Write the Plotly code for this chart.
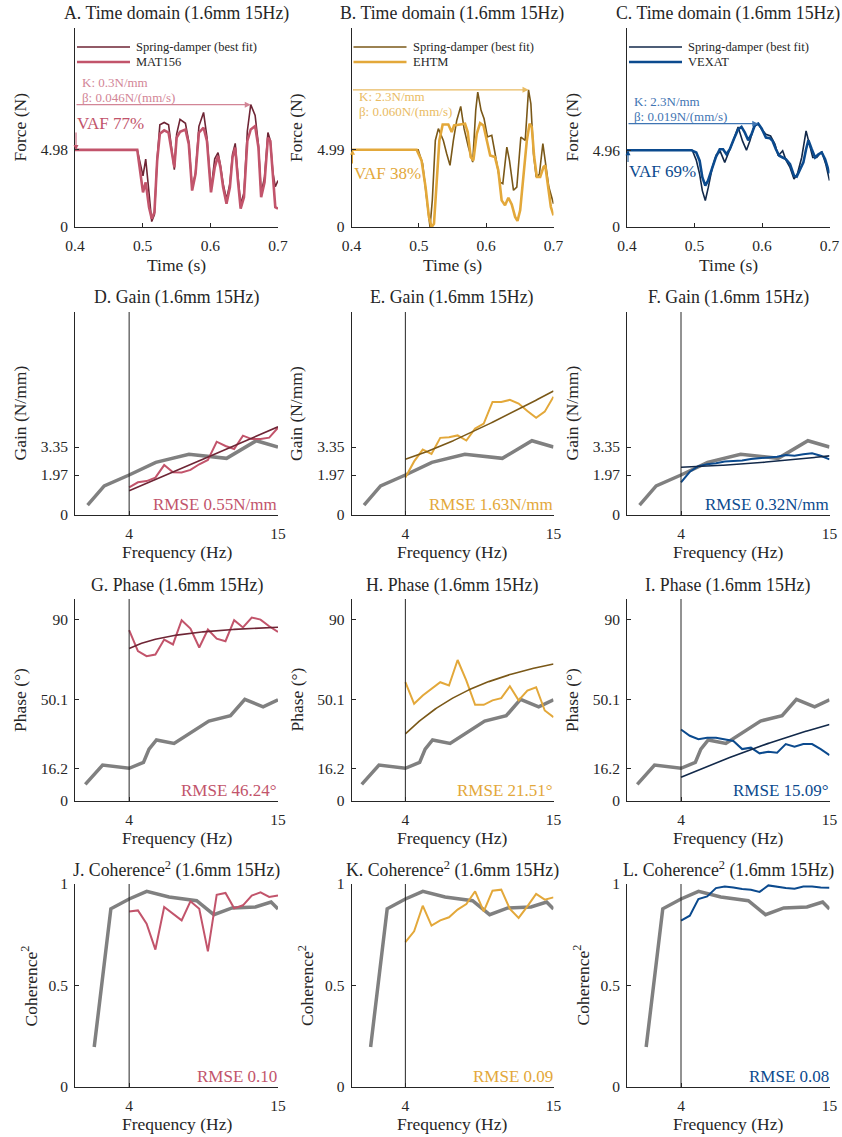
import numpy as np
import plotly.graph_objects as go

W, H = 842, 1137
FONT = "Liberation Serif, Times New Roman, serif"
INK = "#262626"

# ---------------- data ----------------
MODELS = ["MAT156", "EHTM", "VEXAT"]
PANEL_LETTERS = ["ABC", "DEF", "GHI", "JKL"]
K_NMM = [0.3, 2.3, 2.3]
BETA = [0.046, 0.060, 0.019]
VAF = [77, 38, 69]
RMSE_GAIN = [0.55, 1.63, 0.32]
RMSE_PHASE = [46.24, 21.51, 15.09]
RMSE_COH = [0.10, 0.09, 0.08]

# time domain: model force and its best-fit spring-damper force
T_MAT156 = [0.400, 0.492, 0.5005, 0.5045, 0.5094, 0.5134, 0.5174, 0.5214, 0.5254, 0.5318, 0.5383,
            0.5433, 0.5468, 0.5502, 0.5552, 0.5632, 0.5682, 0.5731, 0.5781, 0.5831, 0.5900, 0.5950,
            0.6010, 0.6065, 0.6114, 0.6149, 0.6189, 0.6239, 0.6289, 0.6328, 0.6368, 0.6408, 0.6448,
            0.6497, 0.6547, 0.6597, 0.6662, 0.6711, 0.6751, 0.6801, 0.6851, 0.6886, 0.6925, 0.6960, 0.7000]
F_MAT156 = [4.98, 4.98, 2.24, 2.88, 1.28, 0.53, 0.96, 4.27, 6.03, 6.24, 6.09, 4.70, 3.85, 5.77, 6.15,
            6.30, 5.34, 2.35, 3.42, 6.09, 6.41, 5.56, 2.24, 3.85, 4.59, 3.85, 2.56, 1.50, 2.56, 4.49,
            5.13, 2.99, 1.18, 1.92, 5.56, 6.30, 6.52, 5.13, 1.92, 2.88, 5.77, 5.56, 2.99, 1.28, 1.18]
F_MAT156_FIT = [4.98, 4.98, 3.30, 4.38, 2.20, 0.35, 0.80, 4.40, 6.60, 6.75, 6.60, 5.00, 3.70, 6.00, 6.95,
                6.70, 5.50, 2.50, 3.50, 6.50, 7.40, 5.80, 2.40, 4.40, 4.80, 4.00, 2.80, 1.80, 2.80, 4.70,
                5.40, 3.30, 1.50, 2.20, 6.20, 7.90, 7.20, 5.30, 2.20, 3.20, 6.10, 5.60, 3.50, 2.60, 3.00]

T_EHTM = [0.400, 0.4967, 0.504, 0.510, 0.515, 0.519, 0.5225, 0.5265, 0.5305, 0.5354, 0.5438, 0.5488,
          0.5523, 0.5612, 0.5686, 0.5726, 0.577, 0.581, 0.586, 0.591, 0.596, 0.601, 0.606, 0.613, 0.618,
          0.623, 0.628, 0.633, 0.638, 0.643, 0.6465, 0.6505, 0.6555, 0.6604, 0.6644, 0.6678, 0.6713,
          0.6753, 0.6802, 0.6852, 0.6877, 0.6916, 0.6961, 0.700]
F_EHTM = [4.99, 4.99, 4.30, 2.58, 0.65, 0.00, 0.20, 2.58, 5.59, 6.62, 6.62, 6.13, 6.56, 6.62, 6.67, 6.13,
          4.52, 4.30, 6.02, 6.71, 6.56, 5.59, 4.62, 4.52, 3.66, 1.72, 1.40, 1.89, 1.46, 0.65, 0.39, 1.08,
          3.44, 5.59, 6.67, 6.45, 4.52, 3.23, 3.23, 3.87, 3.98, 2.58, 1.29, 0.75]
T_EHTM_FIT = [0.400, 0.499, 0.5056, 0.5116, 0.5166, 0.520, 0.5245, 0.529, 0.5364, 0.5414, 0.5463, 0.5513,
              0.5563, 0.5622, 0.5672, 0.5736, 0.580, 0.5845, 0.5875, 0.5924, 0.5969, 0.6019, 0.6083,
              0.6133, 0.6207, 0.6247, 0.6307, 0.6346, 0.6406, 0.6455, 0.6515, 0.658, 0.6629, 0.6664,
              0.6703, 0.6743, 0.6790, 0.6842, 0.6877, 0.6930, 0.700]
F_EHTM_FIT = [4.99, 4.99, 4.09, 1.72, 0.00, 1.72, 5.59, 6.35, 5.59, 4.73, 3.98, 5.59, 6.88, 7.79, 6.35,
              5.16, 4.19, 7.53, 8.71, 7.53, 6.99, 5.81, 5.92, 4.73, 2.90, 2.80, 5.16, 4.30, 2.37, 2.58,
              5.81, 5.59, 8.86, 7.96, 4.73, 3.23, 3.40, 5.38, 4.30, 2.60, 1.50]

T_VEXAT = [0.400, 0.4952, 0.5026, 0.5076, 0.5116, 0.516, 0.520, 0.525, 0.5314, 0.5374, 0.5423, 0.5473,
           0.5523, 0.5582, 0.5646, 0.5696, 0.5746, 0.5796, 0.5845, 0.5895, 0.5944, 0.5994, 0.6058,
           0.6117, 0.6157, 0.6206, 0.6256, 0.6306, 0.6355, 0.6415, 0.6474, 0.6514, 0.6563, 0.6613,
           0.6653, 0.6687, 0.6737, 0.6786, 0.6836, 0.6885, 0.6935, 0.700]
F_VEXAT = [4.96, 4.96, 4.81, 4.28, 3.21, 2.67, 2.99, 3.63, 4.49, 5.02, 5.02, 4.70, 5.02, 5.67, 6.31, 6.46,
           6.09, 5.60, 5.99, 6.58, 6.67, 6.37, 5.77, 5.73, 5.56, 5.02, 4.60, 4.49, 4.38, 4.06, 3.31, 3.25,
           3.74, 4.17, 5.02, 5.60, 5.02, 4.49, 4.70, 4.81, 4.38, 3.46]
T_VEXAT_FIT = [0.400, 0.4967, 0.5026, 0.5076, 0.5116, 0.516, 0.5205, 0.5264, 0.5324, 0.5383, 0.5448,
               0.5497, 0.5572, 0.5646, 0.5711, 0.577, 0.582, 0.588, 0.5944, 0.5994, 0.6058, 0.6127,
               0.6191, 0.6241, 0.6306, 0.6355, 0.6415, 0.6474, 0.6524, 0.6588, 0.6653, 0.6702, 0.6752,
               0.6811, 0.6885, 0.6945, 0.700]
F_VEXAT_FIT = [4.96, 4.96, 4.32, 3.42, 2.35, 1.71, 2.57, 3.85, 4.66, 4.87, 4.17, 4.70, 5.56, 6.46, 5.56,
               4.96, 5.56, 6.46, 6.67, 6.31, 5.99, 5.88, 5.35, 4.60, 4.92, 4.32, 3.85, 3.10, 3.42, 4.49,
               6.20, 5.35, 4.49, 4.49, 4.87, 4.06, 2.99]

# frequency domain: model response at the analysed frequencies
FREQ = [4.00, 4.65, 5.29, 5.94, 6.59, 7.24, 7.88, 8.53, 9.18, 9.82, 10.47, 11.12, 11.76, 12.41, 13.06,
        13.71, 14.35, 15.00]
GAIN_MAT156 = [1.36, 1.61, 1.67, 1.84, 2.46, 2.10, 2.09, 2.22, 2.50, 2.71, 3.61, 3.40, 3.25, 3.91, 3.74,
               3.74, 3.81, 4.30]
GAIN_EHTM = [1.85, 2.64, 3.22, 3.01, 3.80, 3.83, 3.92, 3.67, 4.26, 4.50, 5.57, 5.57, 5.67, 5.49, 5.12,
             4.79, 5.09, 5.83]
GAIN_VEXAT = [1.61, 2.13, 2.41, 2.50, 2.55, 2.63, 2.66, 2.69, 2.76, 2.79, 2.82, 2.87, 2.96, 2.92, 2.99,
              3.04, 2.92, 2.74]
PHASE_MAT156 = [84.6, 74.2, 71.7, 72.5, 79.9, 77.5, 89.5, 85.4, 76.0, 84.9, 80.4, 79.1, 89.5, 85.9, 90.8,
                89.8, 86.5, 83.7]
PHASE_EHTM = [58.8, 48.1, 52.2, 55.5, 58.8, 57.2, 69.8, 59.6, 47.6, 47.6, 49.8, 50.9, 56.8, 49.8, 54.7,
              56.3, 44.8, 41.5]
PHASE_VEXAT = [35.4, 32.3, 30.6, 31.3, 31.3, 30.6, 29.7, 25.7, 26.4, 23.6, 24.4, 23.9, 28.2, 26.9, 28.2,
               28.2, 25.7, 22.7]
COH_MAT156 = [0.865, 0.870, 0.805, 0.677, 0.887, 0.852, 0.821, 0.915, 0.878, 0.668, 0.947, 0.956, 0.880,
              0.895, 0.943, 0.959, 0.936, 0.943]
COH_EHTM = [0.714, 0.767, 0.893, 0.795, 0.821, 0.836, 0.874, 0.901, 0.964, 0.865, 0.967, 0.972, 0.877,
            0.833, 0.890, 0.951, 0.923, 0.934]
COH_VEXAT = [0.819, 0.844, 0.926, 0.939, 0.980, 0.988, 0.983, 0.975, 0.972, 0.961, 0.993, 0.985, 0.980,
             0.977, 0.988, 0.988, 0.983, 0.982]

# experimental reference (grey)
FREQ_GAIN_REF = [0.93, 2.16, 4.0, 5.97, 8.42, 11.2, 13.4, 15.0]
GAIN_REF = [0.49, 1.43, 1.97, 2.59, 2.99, 2.79, 3.66, 3.35]
FREQ_PHASE_REF = [0.76, 2.04, 4.0, 5.06, 5.47, 6.02, 7.32, 9.89, 11.49, 12.55, 13.9, 15.0]
PHASE_REF = [8.2, 17.8, 16.2, 19.1, 25.7, 30.2, 28.5, 39.6, 42.2, 50.3, 46.6, 50.1]
FREQ_COH_REF = [1.42, 2.65, 4.0, 5.3, 6.95, 8.99, 10.26, 11.61, 13.33, 14.49, 15.0]
COH_REF = [0.197, 0.878, 0.926, 0.964, 0.936, 0.918, 0.849, 0.882, 0.887, 0.911, 0.877]

F_LOW, F_HIGH = 4, 15

COLOR = ["#C2546B", "#E3A83A", "#0B4A8E"]
COLOR_FIT = ["#6E2535", "#7A5818", "#12294A"]
COLOR_NOTE = ["#D28596", "#E9BB62", "#3F75B3"]
GREY = "#808080"

TIME = [(T_MAT156, F_MAT156, T_MAT156, F_MAT156_FIT),
        (T_EHTM, F_EHTM, T_EHTM_FIT, F_EHTM_FIT),
        (T_VEXAT, F_VEXAT, T_VEXAT_FIT, F_VEXAT_FIT)]
GAIN = [GAIN_MAT156, GAIN_EHTM, GAIN_VEXAT]
PHASE = [PHASE_MAT156, PHASE_EHTM, PHASE_VEXAT]
COH = [COH_MAT156, COH_EHTM, COH_VEXAT]
VAF_ARROW_FROM = [6.2, 4.0, 4.1]

# ---------------- layout geometry (px) ----------------
COL_X = [(75, 278), (351.5, 553.5), (627, 829.5)]
ROWS = [(28, 227), (312, 515), (599, 801), (884, 1087)]
YRANGE = [(0, 12.85), (0, 10), (0, 100), (0, 1)]
TITLE_GAP = [15, 14, 14, 15]
# K/beta note: offsets of the two lines from the peak arrow (above, or below it)
NOTE_DY = [(-22, -7), (7, 22), (-22, -7)]

TITLE_SIZE, LABEL_SIZE, TICK_SIZE = 17.8, 17.5, 15.5


def px(x):
    return x / W


def py(y):
    return 1 - y / H


fig = go.Figure()
layout = dict(width=W, height=H, margin=dict(l=0, r=0, t=0, b=0, pad=0, autoexpand=False),
              paper_bgcolor="white", plot_bgcolor="white", showlegend=False,
              font=dict(family=FONT, color=INK))
annotations, shapes = [], []


def text(x, y, s, size, color=INK, xanchor="center", yanchor="middle", angle=0):
    annotations.append(dict(x=px(x), y=py(y), xref="paper", yref="paper", text=s, showarrow=False,
                            font=dict(family=FONT, size=size, color=color),
                            xanchor=xanchor, yanchor=yanchor, textangle=angle, borderpad=0))


ax_id = 0
for r in range(4):
    top, bot = ROWS[r]
    for c in range(3):
        ax_id += 1
        sfx = "" if ax_id == 1 else str(ax_id)
        xa, ya = "x" + sfx, "y" + sfx
        l, rr = COL_X[c]
        if r == 0:
            xr = [0.4, 0.7]
            xt = dict(tickvals=[0.4, 0.5, 0.6, 0.7], ticktext=["0.4", "0.5", "0.6", "0.7"])
            f0 = TIME[c][1][0]
            yt = dict(tickvals=[0, f0], ticktext=["0", f"{f0:.2f}"])
        else:
            xr = [0, 15]
            xt = dict(tickvals=[F_LOW, F_HIGH], ticktext=[str(F_LOW), str(F_HIGH)])
            if r == 1:
                yt = dict(tickvals=[0, GAIN_REF[2], GAIN_REF[-1]],
                          ticktext=["0", f"{GAIN_REF[2]:.2f}", f"{GAIN_REF[-1]:.2f}"])
            elif r == 2:
                yt = dict(tickvals=[0, PHASE_REF[2], PHASE_REF[-1], 90],
                          ticktext=["0", f"{PHASE_REF[2]:.1f}", f"{PHASE_REF[-1]:.1f}", "90"])
            else:
                yt = dict(tickvals=[0, 0.5, 1], ticktext=["0", "0.5", "1"])
        common = dict(showline=True, linecolor=INK, linewidth=1, ticks="inside", ticklen=4,
                      tickcolor=INK, showgrid=False, zeroline=False, fixedrange=True,
                      tickfont=dict(family=FONT, size=TICK_SIZE, color=INK))
        layout["xaxis" + sfx] = dict(domain=[px(l), px(rr)], range=xr, anchor=ya,
                                     ticklabelstandoff=4, **xt, **common)
        layout["yaxis" + sfx] = dict(domain=[py(bot), py(top)], range=list(YRANGE[r]), anchor=xa,
                                     ticklabelstandoff=3, **yt, **common)

        letter = PANEL_LETTERS[r][c]
        cx = (l + rr) / 2
        if r == 0:
            T, F, Tf, Ff = TIME[c]
            fig.add_trace(go.Scatter(x=Tf, y=Ff, mode="lines", xaxis=xa, yaxis=ya,
                                     line=dict(color=COLOR_FIT[c], width=1.6)))
            fig.add_trace(go.Scatter(x=T, y=F, mode="lines", xaxis=xa, yaxis=ya,
                                     line=dict(color=COLOR[c], width=2.6)))
            text(cx, top - TITLE_GAP[r], f"{letter}. Time domain (1.6mm 15Hz)", TITLE_SIZE)
            text(cx, 265, "Time (s)", LABEL_SIZE)
            text(l - 55, (top + bot) / 2, "Force (N)", LABEL_SIZE, angle=-90)
            # legend
            for k, (col, wdt, lab) in enumerate([(COLOR_FIT[c], 1.6, "Spring-damper (best fit)"),
                                                 (COLOR[c], 2.6, MODELS[c])]):
                yy = 47 + 15 * k
                shapes.append(dict(type="line", xref="paper", yref="paper", x0=px(l + 2), x1=px(l + 55),
                                   y0=py(yy), y1=py(yy), line=dict(color=col, width=wdt)))
                text(l + 60, yy, lab, 12.5, xanchor="left")
            # arrow to peak of fitted force
            i_pk = int(np.argmax(Ff))
            annotations.append(dict(x=Tf[i_pk], y=Ff[i_pk], xref=xa, yref=ya, axref=xa, ayref=ya,
                                    ax=0.4, ay=Ff[i_pk], text="", showarrow=True, arrowhead=2,
                                    arrowsize=1, arrowwidth=1.2, arrowcolor=COLOR_NOTE[c]))
            yk = bot - (Ff[i_pk] / YRANGE[0][1]) * (bot - top)
            text(l + 6, yk + NOTE_DY[c][0], f"K: {K_NMM[c]:.1f}N/mm", 13, COLOR_NOTE[c], xanchor="left")
            text(l + 6, yk + NOTE_DY[c][1], f"β: {BETA[c]:.3f}N/(mm/s)", 13, COLOR_NOTE[c],
                 xanchor="left")
            # VAF arrow to initial force
            annotations.append(dict(x=0.4015, y=F[0], xref=xa, yref=ya, axref=xa, ayref=ya,
                                    ax=0.4015, ay=VAF_ARROW_FROM[c], text="", showarrow=True,
                                    arrowhead=2, arrowsize=1, arrowwidth=1, arrowcolor=COLOR[c]))
            yv = bot - (VAF_ARROW_FROM[c] / YRANGE[0][1]) * (bot - top)
            off = -7 if c == 0 else 8
            text(l + 1, yv + off, f"VAF {VAF[c]}%", 17, COLOR[c], xanchor="left")
        else:
            if r == 1:
                fx, fy, data, lab, ttl = FREQ_GAIN_REF, GAIN_REF, GAIN[c], "Gain (N/mm)", "Gain"
                rm = f"RMSE {RMSE_GAIN[c]:.2f}N/mm"
            elif r == 2:
                fx, fy, data, lab, ttl = FREQ_PHASE_REF, PHASE_REF, PHASE[c], "Phase (°)", "Phase"
                rm = f"RMSE {RMSE_PHASE[c]:.2f}°"
            else:
                fx, fy, data, lab, ttl = (FREQ_COH_REF, COH_REF, COH[c], "Coherence<sup>2</sup>",
                                          "Coherence<sup>2</sup>")
                rm = f"RMSE {RMSE_COH[c]:.2f}"
            shapes.append(dict(type="line", xref=xa, yref=ya, x0=F_LOW, x1=F_LOW, y0=YRANGE[r][0],
                               y1=YRANGE[r][1], line=dict(color=INK, width=1)))
            fig.add_trace(go.Scatter(x=fx, y=fy, mode="lines", xaxis=xa, yaxis=ya,
                                     line=dict(color=GREY, width=3.5)))
            fig.add_trace(go.Scatter(x=FREQ, y=data, mode="lines", xaxis=xa, yaxis=ya,
                                     line=dict(color=COLOR[c], width=2)))
            if r in (1, 2):
                # spring-damper model  K + j*w*beta  (beta in N/(mm/s))
                fm = np.linspace(F_LOW, F_HIGH, 120)
                zc = K_NMM[c] + 1j * 2 * np.pi * fm * BETA[c]
                ym = np.abs(zc) if r == 1 else np.degrees(np.angle(zc))
                fig.add_trace(go.Scatter(x=fm, y=ym, mode="lines", xaxis=xa, yaxis=ya,
                                         line=dict(color=COLOR_FIT[c], width=1.6)))
            text(cx, top - TITLE_GAP[r], f"{letter}. {ttl} (1.6mm 15Hz)", TITLE_SIZE)
            text(cx, bot + 37, "Frequency (Hz)", LABEL_SIZE)
            text(l - (46 if r == 3 else 55), (top + bot) / 2, lab, LABEL_SIZE, angle=-90)
            text(rr, bot - 11, rm, 17, COLOR[c], xanchor="right")

layout["annotations"] = annotations
layout["shapes"] = shapes
fig.update_layout(**layout)
fig.write_html("out.html")
